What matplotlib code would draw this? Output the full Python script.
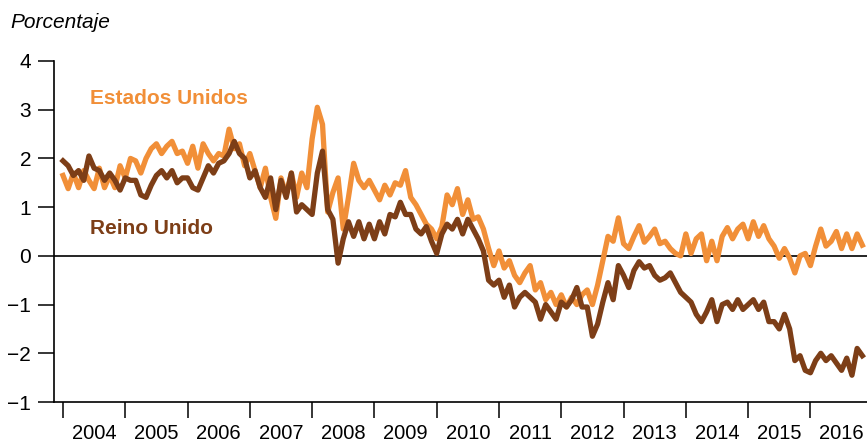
#!/usr/bin/env python3

import matplotlib.pyplot as plt
import numpy as np

# monthly values, Jan 2004 .. Nov 2016 (percent)
us = [
    # 2004
    1.65, 1.38, 1.70, 1.40, 1.75, 1.55, 1.38, 1.80, 1.40, 1.65, 1.40, 1.85,
    # 2005
    1.60, 2.00, 1.95, 1.70, 2.00, 2.20, 2.30, 2.10, 2.25, 2.35, 2.10, 2.15,
    # 2006
    1.90, 2.25, 1.80, 2.30, 2.10, 1.95, 2.10, 2.05, 2.60, 2.20, 2.30, 1.85,
    # 2007
    2.10, 1.75, 1.40, 1.80, 1.20, 0.77, 1.60, 1.25, 1.70, 1.20, 1.70, 1.40,
    # 2008
    2.40, 3.05, 2.70, 0.90, 1.30, 1.60, 0.55, 1.20, 1.90, 1.55, 1.40, 1.55,
    # 2009
    1.35, 1.15, 1.45, 1.25, 1.50, 1.45, 1.75, 1.20, 1.05, 0.85, 0.65, 0.55,
    # 2010
    0.35, 0.60, 1.25, 1.05, 1.38, 0.85, 1.15, 0.75, 0.80, 0.55, 0.15, -0.20,
    # 2011
    0.10, -0.25, -0.10, -0.40, -0.55, -0.35, -0.20, -0.70, -0.55, -0.90,
    -0.75, -1.00,
    # 2012
    -0.80, -1.05, -0.85, -1.00, -0.80, -0.70, -1.00, -0.60, -0.10, 0.40,
    0.30, 0.78,
    # 2013
    0.25, 0.15, 0.40, 0.62, 0.28, 0.40, 0.55, 0.25, 0.30, 0.15, 0.05, 0.00,
    # 2014
    0.45, 0.05, 0.35, 0.45, -0.10, 0.30, -0.10, 0.40, 0.58, 0.35, 0.55, 0.65,
    # 2015
    0.35, 0.70, 0.40, 0.62, 0.35, 0.20, -0.05, 0.15, -0.05, -0.35, 0.00, 0.05,
    # 2016
    -0.20, 0.20, 0.55, 0.20, 0.30, 0.50, 0.15, 0.45, 0.15, 0.45, 0.22,
]

uk = [
    # 2004
    1.95, 1.85, 1.65, 1.75, 1.55, 2.05, 1.80, 1.75, 1.55, 1.70, 1.55, 1.35,
    # 2005
    1.60, 1.55, 1.55, 1.25, 1.20, 1.45, 1.65, 1.75, 1.60, 1.75, 1.50, 1.60,
    # 2006
    1.60, 1.40, 1.35, 1.60, 1.85, 1.70, 1.90, 1.95, 2.10, 2.35, 2.10, 2.00,
    # 2007
    1.60, 1.75, 1.40, 1.20, 1.60, 0.95, 1.55, 1.20, 1.70, 0.90, 1.05, 0.95,
    # 2008
    0.85, 1.70, 2.15, 0.95, 0.75, -0.15, 0.35, 0.70, 0.40, 0.70, 0.35, 0.65,
    # 2009
    0.35, 0.70, 0.45, 0.85, 0.80, 1.10, 0.85, 0.85, 0.55, 0.45, 0.60, 0.30,
    # 2010
    0.05, 0.45, 0.65, 0.55, 0.75, 0.45, 0.75, 0.55, 0.35, 0.10, -0.50, -0.60,
    # 2011
    -0.50, -0.85, -0.60, -1.05, -0.85, -0.75, -0.85, -0.95, -1.30, -1.00,
    -1.15, -1.30,
    # 2012
    -0.95, -1.05, -0.90, -0.65, -1.05, -1.05, -1.65, -1.40, -0.95, -0.55,
    -0.90, -0.20,
    # 2013
    -0.40, -0.65, -0.30, -0.12, -0.25, -0.20, -0.40, -0.50, -0.45, -0.35,
    -0.55, -0.75,
    # 2014
    -0.85, -0.95, -1.20, -1.35, -1.15, -0.90, -1.35, -1.00, -0.95, -1.10,
    -0.90, -1.10,
    # 2015
    -1.00, -0.90, -1.10, -0.95, -1.35, -1.35, -1.50, -1.20, -1.50, -2.15,
    -2.05, -2.35,
    # 2016
    -2.40, -2.15, -2.00, -2.15, -2.05, -2.20, -2.35, -2.10, -2.45, -1.90,
    -2.05,
]

years = list(range(2004, 2017))
yticks = [4, 3, 2, 1, 0, -1, -2, -3]
ytick_labels = ['4', '3', '2', '1', '0', '\u22121', '\u22122', '\u22121']

orange = '#F18F38'
brown = '#7D3E17'

plt.rcParams['font.family'] = ['Liberation Sans', 'DejaVu Sans']

fig = plt.figure(figsize=(8.67, 4.42), dpi=100)
ax = fig.add_axes([54 / 867, 40 / 442, 1 - 54 / 867, 341 / 442])

months = np.arange(len(us))
ax.plot(months, us, color=orange, lw=3.8, solid_joinstyle='round', zorder=3)
ax.plot(np.arange(len(uk)), uk, color=brown, lw=3.8, solid_joinstyle='round', zorder=4)
ax.axhline(0, color='black', lw=1.2, zorder=2)

ax.set_xlim(-1.73, 154.9)
ax.set_ylim(-3, 4)

ax.set_yticks(yticks)
ax.set_yticklabels(ytick_labels, fontsize=15)
ax.tick_params(axis='y', direction='out', length=11.5, width=1.1, pad=5)

# year boundaries as ticks, labels in the middle of each year
ax.set_xticks([12 * k for k in range(len(years))])
ax.set_xticklabels([])
ax.set_xticks([12 * k + 6 for k in range(len(years))], minor=True)
ax.set_xticklabels([str(y) for y in years], minor=True, fontsize=14.5)
ax.tick_params(axis='x', which='major', direction='out', length=11.5, width=1.1)
ax.tick_params(axis='x', which='minor', length=0, pad=16)

for s in ['top', 'right']:
    ax.spines[s].set_visible(False)
for s in ['left', 'bottom']:
    ax.spines[s].set_linewidth(1.2)

ax.text(5.2, 3.22, 'Estados Unidos', color=orange, fontsize=15,
        fontweight='bold', va='center', ha='left')
ax.text(5.2, 0.56, 'Reino Unido', color=brown, fontsize=15,
        fontweight='bold', va='center', ha='left')

fig.text(10 / 867, 1 - 22 / 442, 'Porcentaje', fontsize=15, style='italic',
         va='center', ha='left')

fig.savefig('out.png', dpi=100)
